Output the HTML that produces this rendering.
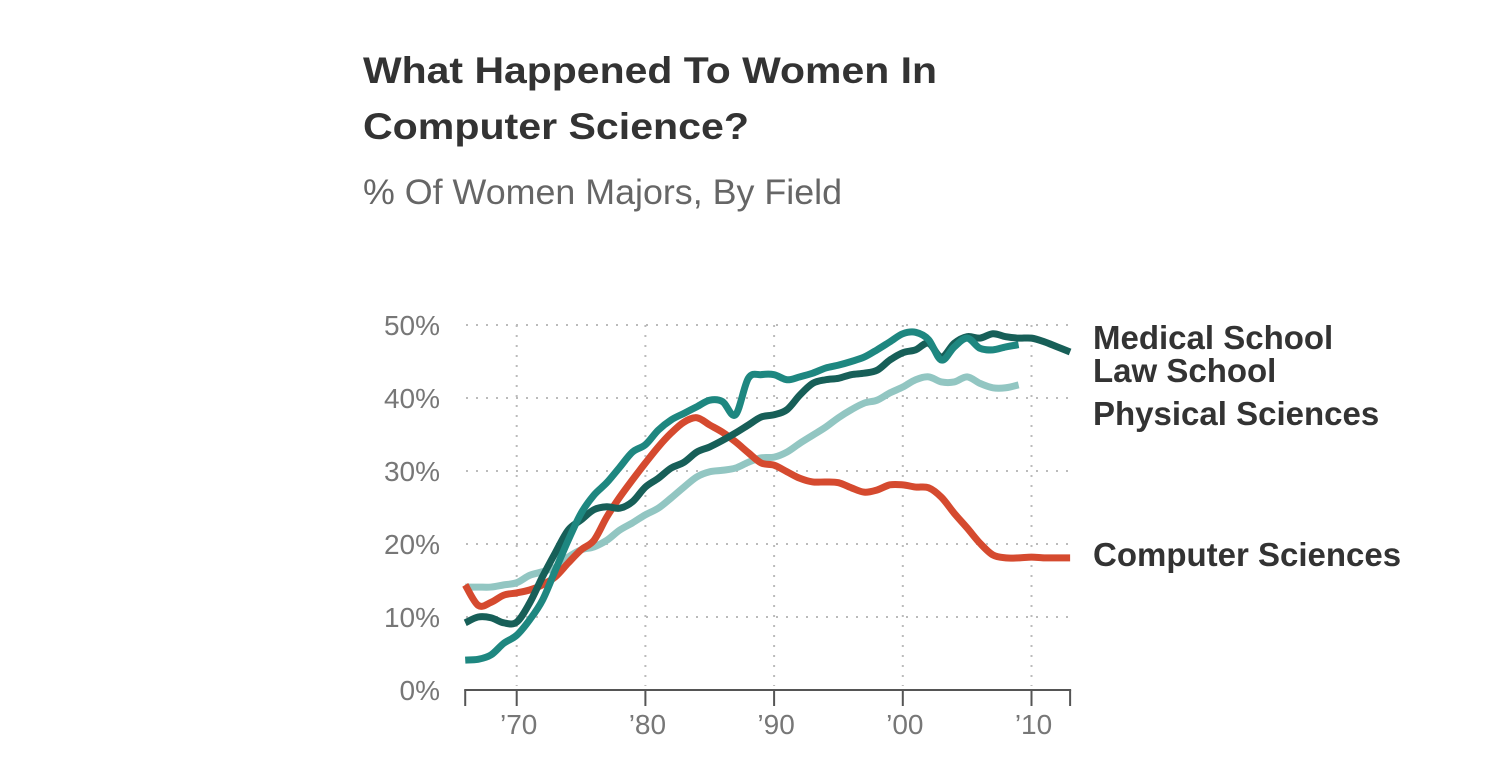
<!DOCTYPE html>
<html><head><meta charset="utf-8"><style>
html,body{margin:0;padding:0;background:#fff;width:1502px;height:770px;overflow:hidden}
svg{display:block;font-family:"Liberation Sans",Arial,sans-serif}
</style></head><body>
<svg id="chart" width="1502" height="770">
<text x="363" y="83" font-size="37" font-weight="bold" fill="#333" textLength="574" lengthAdjust="spacingAndGlyphs">What Happened To Women In</text>
<text x="363" y="139" font-size="37" font-weight="bold" fill="#333" textLength="386" lengthAdjust="spacingAndGlyphs">Computer Science?</text>
<text x="363" y="204" font-size="35" fill="#666" textLength="479" lengthAdjust="spacingAndGlyphs">% Of Women Majors, By Field</text>
<g id="grid"></g><g id="axes"></g><g id="lines"></g><g id="labels"></g>
</svg>
<script>
const years = [];
for (let y = 1966; y <= 2013; y++) years.push(y);
const yTicks = [0,10,20,30,40,50];
const yTickLabels = ["0%","10%","20%","30%","40%","50%"];
const xTicks = [1970,1980,1990,2000,2010];
const xTickLabels = ["’70","’80","’90","’00","’10"];
const medical = [9.2,10,9.9,9.2,9.3,11.9,15.5,18.8,21.9,23.3,24.7,25.1,24.9,25.8,27.8,29,30.4,31.2,32.6,33.3,34.2,35.2,36.3,37.4,37.7,38.4,40.4,42,42.5,42.7,43.2,43.4,43.8,45.2,46.2,46.6,47.5,45.6,47.5,48.4,48.2,48.8,48.4,48.2,48.2,47.7,47,46.3];
const law = [4.1,4.2,4.8,6.4,7.5,9.6,12.3,16.4,20.5,24.2,26.7,28.4,30.5,32.6,33.6,35.6,37,37.9,38.8,39.7,39.5,37.7,42.7,43.2,43.2,42.5,42.9,43.4,44.1,44.5,45,45.6,46.6,47.7,48.8,49,48,45.2,47,48.2,46.8,46.6,47,47.3];
const physical = [14.1,14.1,14.1,14.4,14.7,15.7,16.2,16.8,18.2,19.2,19.6,20.5,21.9,22.9,24,24.9,26.3,27.8,29.2,29.9,30.1,30.4,31.2,31.8,31.9,32.6,33.8,34.9,36,37.3,38.4,39.3,39.7,40.7,41.5,42.5,42.9,42.2,42.2,42.9,42,41.4,41.4,41.8];
const computer = [14.4,11.6,12,13,13.3,13.7,14.4,15.5,17.4,19.2,20.5,23.7,26.4,28.8,31.1,33.3,35.2,36.7,37.3,36.3,35.3,34,32.5,31.1,30.8,29.9,29,28.5,28.5,28.4,27.7,27.1,27.4,28.1,28.1,27.8,27.7,26.4,24.2,22.2,20.1,18.5,18.1,18.1,18.2,18.1,18.1,18.1];
const seriesNames = ["Medical School","Law School","Physical Sciences","Computer Sciences"];
const labelY = [338,371,414,555];

const NS="http://www.w3.org/2000/svg";
const x = yr => 516.7 + (yr-1970)*12.87;
const y = v => 690 - v*7.3;
function mk(tag, attrs, parent){const e=document.createElementNS(NS,tag);for(const k in attrs)e.setAttribute(k,attrs[k]);parent.appendChild(e);return e;}
const grid=document.getElementById('grid'), axes=document.getElementById('axes'), lines=document.getElementById('lines'), labels=document.getElementById('labels');

yTicks.forEach((t,i)=>{
  if(t>0){const l=mk('line',{x1:466,x2:1070,y1:y(t),y2:y(t),stroke:'#bbb','stroke-width':2,'stroke-dasharray':'2 8'},grid);
  
  }
  const tx=mk('text',{x:440,y:y(t)+10,'text-anchor':'end','font-size':28,fill:'#777'},axes);
  tx.textContent=yTickLabels[i];
  
  
});
xTicks.forEach((t,i)=>{
  const l=mk('line',{x1:x(t),x2:x(t),y1:325,y2:686,stroke:'#bbb','stroke-width':2,'stroke-dasharray':'2 8'},grid);
  
  
  const tk=mk('line',{x1:x(t),x2:x(t),y1:690,y2:706,stroke:'#555','stroke-width':2},axes);
  
  
  const tx=mk('text',{x:x(t)+2,y:734,'text-anchor':'middle','font-size':28,fill:'#777'},axes);
  tx.textContent=xTickLabels[i];
  
  
});
[1966,2013].forEach(t=>{
  const tk=mk('line',{x1:x(t),x2:x(t),y1:690,y2:706,stroke:'#555','stroke-width':2},axes);
  
  
});
const ax=mk('line',{x1:x(1966)-1,x2:x(2013)+1,y1:690,y2:690,stroke:'#555','stroke-width':2},axes);



function smooth(pts){
  let d=`M${pts[0][0]},${pts[0][1]}`;
  for(let i=0;i<pts.length-1;i++){
    const p0=pts[Math.max(0,i-1)],p1=pts[i],p2=pts[i+1],p3=pts[Math.min(pts.length-1,i+2)];
    const c1=[p1[0]+(p2[0]-p0[0])/6,p1[1]+(p2[1]-p0[1])/6];
    const c2=[p2[0]-(p3[0]-p1[0])/6,p2[1]-(p3[1]-p1[1])/6];
    d+=` C${c1[0]},${c1[1]} ${c2[0]},${c2[1]} ${p2[0]},${p2[1]}`;
  }
  return d;
}
const data=[physical,computer,medical,law];
const colors={physical:'#92c6c2',computer:'#d54a2f',medical:'#175f58',law:'#1e8780'};
const keys=['physical','computer','medical','law'];
const names=['physical-sciences-line','computer-sciences-line','medical-school-line','law-school-line'];
data.forEach((arr,k)=>{
  const pts=arr.map((v,i)=>[x(years[i]),y(v)]);
  const p=mk('path',{d:smooth(pts),fill:'none',stroke:colors[keys[k]],'stroke-width':7,'stroke-linecap':'butt','stroke-linejoin':'round'},lines);
  
  
});
seriesNames.forEach((n,i)=>{
  const t=mk('text',{x:1093,y:labelY[i]+11,'font-size':33,'font-weight':'bold',fill:'#333'},labels);
  t.textContent=n;
  
  
});
</script>
</body></html>
